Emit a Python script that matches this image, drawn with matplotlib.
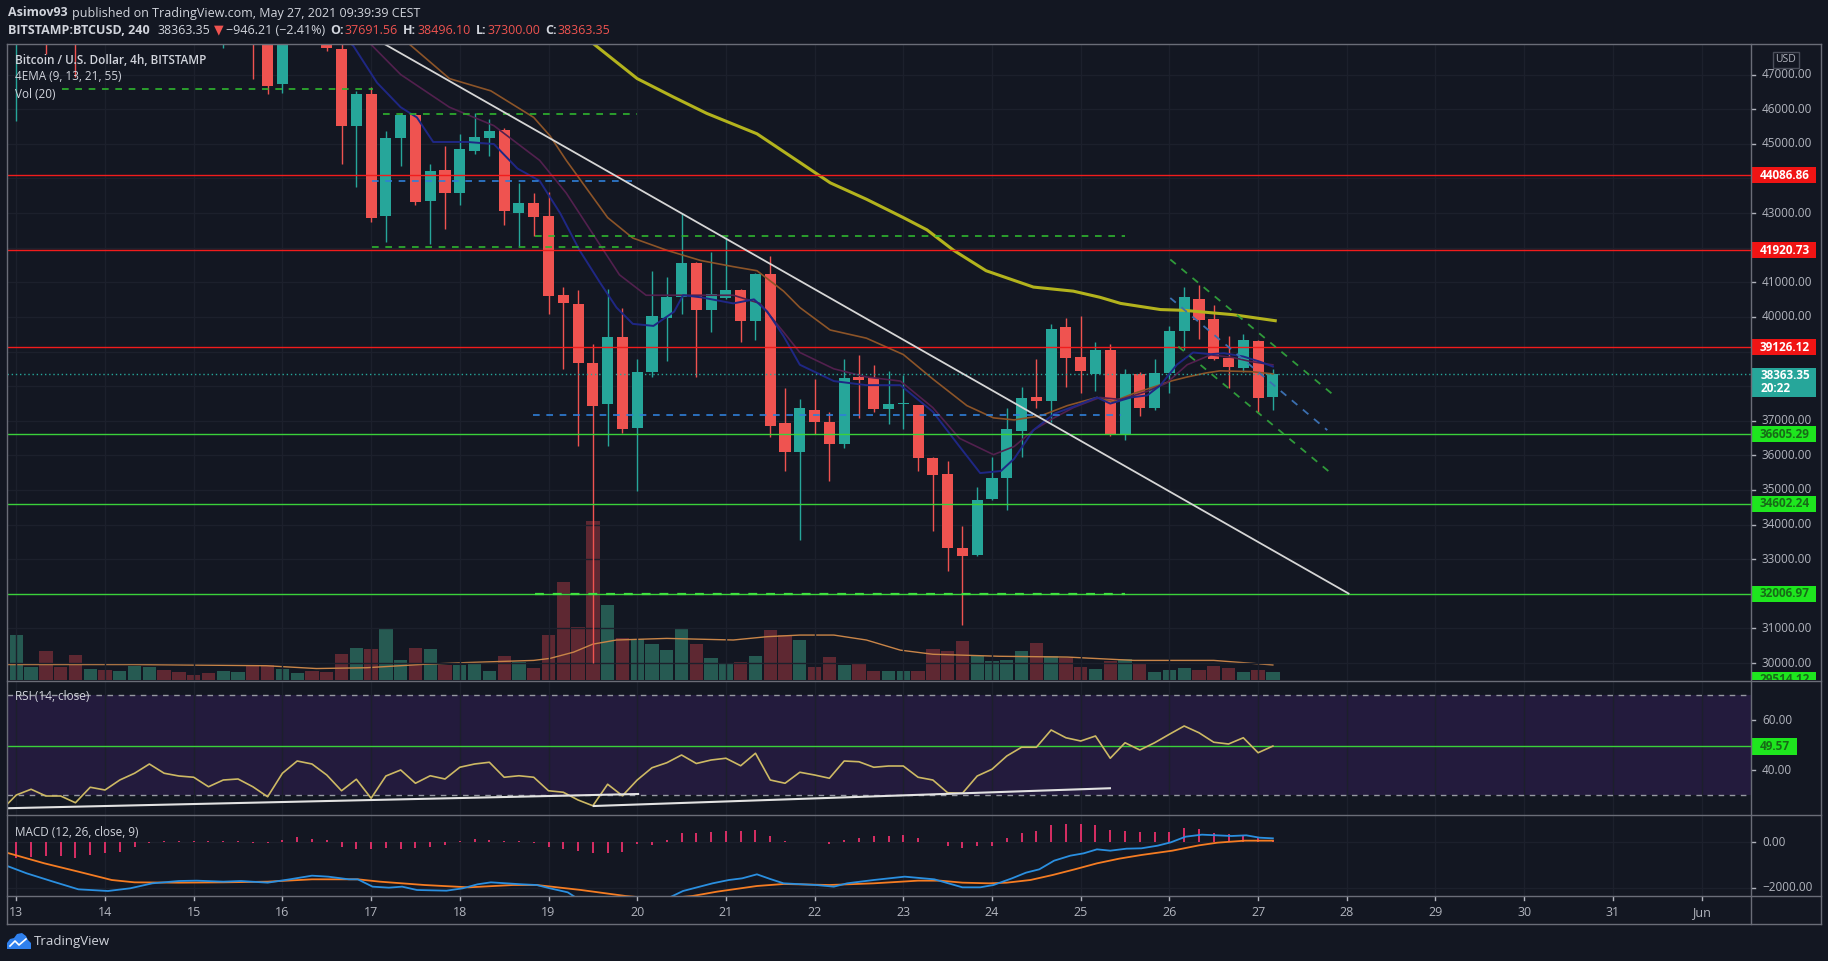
import numpy as np
import matplotlib
matplotlib.use('Agg')
import matplotlib.pyplot as plt
from matplotlib.patches import Rectangle, Polygon
from matplotlib.lines import Line2D

plt.rcParams['font.family'] = ['Open Sans', 'DejaVu Sans']

W, H = 1828, 961
BG = '#131722'
TXT = '#d1d4dc'
AX_TXT = '#b2b5be'
GRID = '#1c202c'
FRAME = '#6a6d78'
UP = '#26a69a'
DOWN = '#ef5350'
UP_VOL = '#265a52'
DOWN_VOL = '#5e2832'

# ---- data: 4h candles, bar 0 = May 13 00:00, first bar = -1 (May 12 20:00) ----
DAY0 = 13.0
FIRST_BAR = -1

opens = [51800, 49300, 49900, 51000, 49200, 48900, 48200, 49700, 49300, 50600,
         51000, 51300, 50700, 50100, 49800, 49300, 49900, 50200, 48100, 46743,
         48000, 49100, 48400, 47735, 45527, 46448, 42905, 45173, 45822, 43342,
         44251, 43578, 44783, 45173, 45409, 43014, 43283, 42905, 40626, 40366,
         38677, 37472, 39409, 36787, 38405, 39976, 40567, 41571, 40212, 40543,
         40779, 39893, 41240, 36941, 36102, 37319, 36965, 36315, 38264, 38228,
         37343, 37480, 37461, 35937, 35453, 33327, 33126, 34745, 35335, 36705,
         37673, 37579, 39704, 38854, 38358, 39055, 36587, 38358, 37378, 38382,
         39587, 40531, 39938, 38826, 38517, 39310, 37691.56]
highs = [52400, 50200, 51400, 51300, 49900, 49500, 50000, 50400, 51000, 51400,
         51600, 51500, 51000, 50500, 50300, 50300, 50700, 50500, 48700, 48300,
         49500, 49700, 48800, 48150, 46530, 46649, 45373, 45880, 45880, 44405,
         44936, 45291, 45881, 45704, 45444, 43874, 43578, 43602, 40862, 40779,
         39209, 40803, 40271, 38795, 41334, 41157, 42988, 41600, 41866, 42314,
         40800, 41260, 41748, 37933, 37614, 38205, 37260, 38795, 38913, 38618,
         38441, 38323, 37461, 35950, 35842, 33953, 35075, 35960, 37378, 37969,
         38795, 39799, 39976, 40035, 39268, 39209, 38500, 38400, 38795, 39740,
         40862, 40921, 40334, 39435, 39503, 39339, 38496.10]
lows = [48800, 45650, 49200, 47594, 48300, 46944, 48000, 48900, 49000, 50200,
        50500, 50400, 49800, 49500, 48900, 47770, 49500, 46885, 46448, 46472,
        47950, 48100, 47688, 44405, 43755, 42751, 42161, 44346, 43224, 42102,
        42539, 43224, 44700, 44641, 42657, 42043, 42338, 40094, 38500, 36256,
        30000, 36256, 36650, 34957, 38263, 38736, 40094, 38263, 39563, 40507,
        39268, 39327, 36516, 35547, 33540, 36610, 35252, 36200, 37083, 37260,
        36906, 36752, 35547, 33811, 32654, 31100, 33100, 34700, 34425, 35961,
        37378, 36965, 37969, 37791, 37850, 36552, 36433, 37142, 37300, 37800,
        39040, 39350, 38758, 37937, 38401, 37212, 37300.00]
closes = [49300, 49900, 51000, 49200, 48900, 48200, 49700, 49300, 50600, 51000,
          51300, 50700, 50100, 49800, 49300, 49900, 50200, 48100, 46684, 48000,
          49100, 48400, 47771, 45527, 46448, 42870, 45173, 45822, 43318, 44228,
          43578, 44842, 45196, 45373, 43047, 43283, 42893, 40602, 40390, 38677,
          37437, 39409, 36752, 38405, 40035, 40567, 41571, 40212, 40649, 40767,
          39893, 41240, 36846, 36102, 37354, 36965, 36315, 38228, 38169, 37343,
          37496, 37496, 35925, 35429, 33327, 33091, 34721, 35335, 36752, 37650,
          37579, 39657, 38819, 38441, 39055, 36587, 38358, 37378, 38382, 39587,
          40567, 39917, 38787, 38565, 39339, 37647, 38363.35]
volumes = [2700, 3380, 1010, 2150, 1010, 1840, 860, 770, 700, 1070,
           1010, 770, 620, 400, 550, 700, 620, 1160, 1160, 860,
           550, 700, 620, 1930, 2390, 2330, 3830, 1530, 2390, 2330,
           1160, 1160, 1310, 700, 1780, 1380, 920, 3380, 7350, 4010,
           11930, 5600, 3150, 3060, 2690, 2240, 3860, 2690, 1620, 1310,
           1380, 1780, 3770, 3380, 3000, 1010, 1720, 1160, 1310, 700,
           700, 700, 700, 2300, 2180, 2910, 1780, 1410, 1530, 2150,
           2750, 1780, 1620, 1010, 860, 1460, 1540, 1170, 620, 730,
           920, 770, 1040, 920, 620, 750, 620]
rsi = [24, 30, 32.3, 29.6, 29.6, 26.9, 33.1, 32, 36, 38.7,
       42.4, 38.7, 37.6, 37.1, 33.3, 36, 36.4, 33.3, 29.3, 38.7,
       43.6, 42.4, 38, 31.7, 36.3, 28.7, 37.6, 40, 34.7, 37.7,
       36.4, 41.1, 42.4, 43.1, 37.1, 37.7, 37.1, 31.7, 31.1, 28,
       25.7, 34.3, 29.7, 36, 40.9, 42.9, 46, 42.6, 44, 44.7,
       41.7, 46.7, 36, 34.7, 39.1, 38, 36.7, 43.6, 43.3, 41.1,
       41.6, 41.6, 37.1, 36, 30.9, 30.7, 37.6, 40.3, 45.6, 49.1,
       49.1, 56, 52.9, 51.6, 53.6, 44.7, 50.9, 48, 50.9, 54.3,
       57.6, 54.9, 51.1, 50.4, 52.9, 46.9, 49.57]
macd_hist = [-650, -700, -650, -620, -620, -700, -550, -480, -420, -200,
             -50, 50, 40, 60, 40, 30, 40, -30, -40, 100,
             220, 150, 100, -200, -300, -300, -250, -300, -280, -200,
             -130, 60, 150, 100, 60, 40, -60, -200, -300, -400,
             -500, -500, -420, -100, -116, 80, 390, 390, 420, 464,
             464, 536, 246, 30, 0, -15, -70, 72, 174, 275,
             275, 319, 174, 0, -188, -261, -188, -160, 174, 390,
             464, 754, 797, 797, 754, 507, 464, 420, 435, 435,
             609, 565, 390, 348, 275, 174, 101]

# indicator lines (bar position, value)
macd_bar = [-1, 0.7, 2.5, 4.2, 6.2, 7.7, 9.2, 11, 12.2, 14,
            15.2, 17, 18.5, 20, 21.1, 22.5, 23.1, 24.1, 25.2, 26.1,
            27.1, 29.1, 30.2, 31.2, 32.1, 34.2, 35.2, 36.1, 37.3, 38.3,
            39.3, 40.5, 42, 43.5, 44.4, 45.1, 47.1, 48.2, 49.1, 50.1,
            51, 51.9, 54.1, 55.3, 56.2, 58, 60.1, 62.1, 64, 65.2,
            66.1, 67.35, 68.3, 69.2, 70.2, 71.3, 72.2, 73.1, 74, 75.1,
            76.1, 77.2, 78.1, 79.1, 80.2, 81.2, 82.2, 83.2, 84.1, 85]
macd_val = [-950, -1362, -1725, -2058, -2130, -2014, -1797, -1696, -1681, -1725,
            -1696, -1768, -1623, -1464, -1507, -1623, -1623, -1942, -1986, -1942,
            -2087, -2116, -2014, -1840, -1754, -1840, -1870, -2014, -2188, -2600,
            -3100, -3200, -3000, -2600, -2347, -2130, -1797, -1652, -1580, -1406,
            -1609, -1797, -1870, -1942, -1797, -1652, -1507, -1623, -1971, -1971,
            -1870, -1580, -1333, -1188, -812, -594, -493, -319, -377, -290,
            -275, -160, -14, 232, 319, 290, 261, 290, 188, 159]
signal_bar = [-1, 1.9, 4.2, 6.45, 8, 11, 14, 17, 20, 23.1,
              24.6, 27.6, 30.6, 33.6, 35.2, 38.2, 41.2, 43.5, 45.75, 47.4,
              50.1, 51.9, 55, 58, 61, 62.5, 64, 65.8, 67, 68.6,
              70.1, 71.6, 73.1, 74.6, 76.1, 78.2, 80, 81.25, 83.1, 85]
signal_val = [-400, -928, -1290, -1652, -1754, -1768, -1754, -1725, -1623, -1623,
              -1725, -1870, -1971, -1870, -1870, -2087, -2347, -2480, -2347, -2159,
              -1913, -1826, -1870, -1797, -1681, -1681, -1768, -1797, -1768, -1652,
              -1435, -1188, -928, -725, -565, -377, -145, -29, 58, 58]

ema9_bar = [21.5, 22.8, 24.4, 26.0, 27.1, 28.2, 30.5, 32.3, 33.9, 35.4,
            36.8, 38.1, 39.5, 40.6, 41.7, 43.1, 44.5, 45.1, 46.3, 48.5,
            49.9, 50.8, 51.9, 53.0, 55.3, 57.5, 59.8, 62.0, 63.8, 65.2,
            66.6, 67.5, 68.8, 70.2, 71.7, 73.1, 74.0, 75.4, 76.5, 77.4,
            78.5, 79.6, 80.8, 81.7, 83.0, 84.1, 85.0]
ema9_val = [48300, 47830, 46767, 46058, 45763, 45054, 45054, 44995, 44287, 43932,
            42988, 41925, 40980, 40271, 39799, 39740, 40153, 40626, 40567, 40390,
            40507, 40153, 39445, 38618, 38146, 38028, 38028, 37260, 36256, 35488,
            35547, 35902, 36728, 37201, 37437, 37673, 37496, 37673, 37732, 38028,
            38618, 38972, 38923, 38952, 38855, 38710, 38565]
ema13_bar = [23, 26.0, 29.3, 32.3, 35.4, 37.2, 39.0, 40.8, 42.6, 45.1,
             48.5, 50.3, 51.9, 53.0, 55.3, 57.5, 59.8, 62.0, 63.8, 66.1,
             67.5, 68.8, 70.2, 71.5, 73.3, 74.7, 76.5, 77.8, 79.2, 80.8,
             82.3, 83.5, 85.0]
ema13_val = [48300, 47003, 46058, 45527, 44523, 43578, 42397, 41216, 40626, 40626,
             40626, 40390, 39563, 38972, 38500, 38264, 38146, 37378, 36492, 36020,
             36256, 36728, 37083, 37378, 37673, 37614, 37850, 38087, 38618, 38904,
             38826, 38710, 38614]
ema21_bar = [24, 26.4, 29.3, 32.1, 35.0, 36.1, 37.2, 38.6, 40.0, 41.7,
             44.0, 46.3, 48.5, 50.1, 51.9, 53.0, 55.05, 57.5, 60.0, 62.0,
             64.3, 66.1, 67.5, 69.3, 71.1, 73.1, 74.2, 75.6, 76.9, 78.1,
             79.2, 80.5, 81.4, 83.5, 85.0]
ema21_val = [48400, 47948, 46885, 46531, 45763, 45232, 44523, 43696, 42869, 42279,
             41925, 41629, 41452, 41334, 40744, 40271, 39622, 39386, 38913, 38205,
             37437, 37083, 37024, 37142, 37437, 37673, 37555, 37791, 37969, 38146,
             38264, 38382, 38441, 38420, 38353]
ema55_bar = [36, 38.7, 42.0, 44.45, 46.7, 50.1, 53.0, 55.06, 57.5, 60.0,
             61.6, 63.4, 65.6, 68.8, 71.5, 73.3, 74.7, 77.4, 79.0, 82.3, 85.16]
ema55_val = [48500, 48007, 46885, 46353, 45881, 45291, 44464, 43873, 43401, 42870,
             42515, 41925, 41334, 40862, 40744, 40567, 40390, 40212, 40190, 40064, 39890]
volma_bar = [-1, 7.9, 16.9, 20.3, 23.7, 27.3, 30.5, 35, 36.1, 37.7,
             39, 40.6, 44, 48.5, 50.8, 53, 55.3, 57.5, 59.8, 62,
             66.5, 71.1, 75.6, 81, 85]
volma_val = [1160, 1160, 1070, 860, 920, 1160, 1310, 1470, 1620, 2090,
             2690, 3000, 3120, 3000, 3250, 3370, 3370, 3000, 2240, 1930,
             1780, 1720, 1470, 1470, 1130]

# horizontal levels and drawings (x in days of May)
red_levels = [44086.86, 41920.73, 39126.12]
green_levels = [36605.29, 34602.24, 32006.97]
bottom_level = 29514.12
last_price = 38363.35
trend_x = [16.9, 28.02]
trend_y = [48250, 32007]
green_dash = [(13.515, 17.02, 46590), (17.13, 20.0, 45858), (17.01, 20.0, 42020),
              (18.85, 25.5, 42340)]
blue_dash = [(17.01, 20.0, 43930), (18.83, 25.45, 37160)]
support_dash = (18.85, 25.5, 32006.97)
channel_green = [([26.01, 27.85], [41659, 37743]), ([26.10, 27.85], [39145, 35423])]
channel_blue = ([26.01, 27.78], [40547, 36728])
rsi_lines = [([12.89, 20.01], [24.7, 30.4]), ([19.51, 25.33], [25.6, 32.7])]
rsi_level = 49.57

day_ticks = list(range(13, 33))
day_labels = [str(d) for d in range(13, 32)] + ['Jun']

XMIN, XMAX = 12.895, 32.557
P_LO, P_HI = 29509, 47885
VOL_TOP = 47700
R_LO, R_HI = 22, 75.6
M_LO, M_HI = -2348, 1174

# ---- layout (pixel boxes) ----
PL, PR, PRR = 7, 1751, 1821
fig = plt.figure(figsize=(W / 100, H / 100), dpi=100, facecolor=BG)


def px_axes(x0, y0, x1, y1):
    ax = fig.add_axes([x0 / W, 1 - y1 / H, (x1 - x0) / W, (y1 - y0) / H])
    ax.set_facecolor('none')
    for s in ax.spines.values():
        s.set_visible(False)
    ax.tick_params(left=False, bottom=False, labelleft=False, labelbottom=False)
    return ax


def bars_to_day(b):
    return DAY0 + np.asarray(b, dtype=float) / 6


def fig_line(x0, y0, x1, y1, color=FRAME, lw=1):
    fig.add_artist(Line2D([x0 / W, x1 / W], [1 - y0 / H, 1 - y1 / H], color=color, lw=lw))


n = len(opens)
x = bars_to_day(np.arange(n) + FIRST_BAR)
o, h, l, c = map(np.array, (opens, highs, lows, closes))
up = c >= o
col = np.where(up, UP, DOWN)

# volume (under the candles)
ax_v = px_axes(PL, 44, PR, 680)
ax_v.set_xlim(XMIN, XMAX)
ax_v.set_ylim(0, VOL_TOP)
ax_v.bar(x, volumes, width=0.15, color=np.where(up, UP_VOL, DOWN_VOL), lw=0)
ax_v.plot(bars_to_day(volma_bar), volma_val, color='#c98548', lw=1)

# price pane
ax_p = px_axes(PL, 44, PR, 680)
ax_p.set_xlim(XMIN, XMAX)
ax_p.set_ylim(P_LO, P_HI)
ax_p.set_xticks(day_ticks)
ax_p.set_yticks(np.arange(30000, 48000, 1000))
ax_p.grid(True, color=GRID, lw=1)
ax_p.set_axisbelow(True)

ax_p.vlines(x, l, h, colors=col, lw=1, zorder=3)
ax_p.bar(x, np.maximum(np.abs(c - o), 25), bottom=np.minimum(o, c), width=0.125,
         color=col, lw=0, zorder=4)

ax_p.plot(bars_to_day(ema55_bar), ema55_val, color='#b3b31d', lw=2.2, zorder=5)
ax_p.plot(bars_to_day(ema21_bar), ema21_val, color='#8c5428', lw=1.2, zorder=5)
ax_p.plot(bars_to_day(ema13_bar), ema13_val, color='#52204e', lw=1.2, zorder=5)
ax_p.plot(bars_to_day(ema9_bar), ema9_val, color='#1f2784', lw=1.4, zorder=5)

for lv in red_levels:
    ax_p.axhline(lv, color='#f21c1c', lw=1, zorder=6)
for lv in green_levels:
    ax_p.axhline(lv, color='#3ad13a', lw=1, zorder=6)
ax_p.axhline(last_price, color=UP, lw=1, ls=(0, (1, 2)), zorder=6)

for x0, x1, y in green_dash:
    ax_p.plot([x0, x1], [y, y], color='#2fb52f', lw=1.2, ls=(0, (4, 4)), zorder=6)
for x0, x1, y in blue_dash:
    ax_p.plot([x0, x1], [y, y], color='#2f7fd8', lw=1.2, ls=(0, (4, 4)), zorder=6)
ax_p.plot(support_dash[:2], [support_dash[2]] * 2, color='#40e040', lw=1.6,
          ls=(0, (4, 4)), zorder=6)
for cx, cy in channel_green:
    ax_p.plot(cx, cy, color='#2f9a3a', lw=1.3, ls=(0, (4, 4)), zorder=6)
ax_p.plot(*channel_blue, color='#3b6fb0', lw=1.3, ls=(0, (4, 4)), zorder=6)
ax_p.plot(trend_x, trend_y, color='#d6d6d6', lw=1.3, zorder=7)

ax_p.text(0.0046, 1 - 16 / 636, 'Bitcoin / U.S. Dollar, 4h, BITSTAMP', transform=ax_p.transAxes,
          color=TXT, fontsize=8.5, fontweight='semibold', va='center', zorder=8)
ax_p.text(0.0046, 1 - 33 / 636, '4EMA (9, 13, 21, 55)', transform=ax_p.transAxes,
          color=TXT, fontsize=8.5, va='center', zorder=8)
ax_p.text(0.0046, 1 - 50 / 636, 'Vol (20)', transform=ax_p.transAxes,
          color=TXT, fontsize=8.5, va='center', zorder=8)

# RSI pane
ax_r = px_axes(PL, 681, PR, 815)
ax_r.set_xlim(XMIN, XMAX)
ax_r.set_ylim(R_LO, R_HI)
ax_r.axhspan(30, 70, color='#231b3d', lw=0, zorder=0)
ax_r.set_xticks(day_ticks)
ax_r.set_yticks([])
ax_r.grid(True, axis='x', color=GRID, lw=1)
ax_r.set_axisbelow(True)
for lv in (70, 30):
    ax_r.axhline(lv, color='#9598a1', lw=1, ls=(0, (4, 4)), zorder=2)
ax_r.axhline(rsi_level, color='#3ad13a', lw=1, zorder=3)
ax_r.plot(x, rsi, color='#cdb964', lw=1.2, zorder=4)
for lx, ly in rsi_lines:
    ax_r.plot(lx, ly, color='#e2e2e2', lw=1.5, zorder=5)
ax_r.text(0.0046, 1 - 16 / 134, 'RSI (14, close)', transform=ax_r.transAxes,
          color=TXT, fontsize=8.5, va='center', zorder=6)

# MACD pane
ax_m = px_axes(PL, 815, PR, 896)
ax_m.set_xlim(XMIN, XMAX)
ax_m.set_ylim(M_LO, M_HI)
ax_m.set_xticks(day_ticks)
ax_m.set_yticks([0, -2000])
ax_m.grid(True, color=GRID, lw=1)
ax_m.set_axisbelow(True)
ax_m.vlines(x, 0, macd_hist, colors='#e8306a', lw=1.3, zorder=3)
ax_m.plot(bars_to_day(signal_bar), signal_val, color='#f57c22', lw=1.3, zorder=4)
ax_m.plot(bars_to_day(macd_bar), macd_val, color='#2a8fe0', lw=1.3, zorder=5)
ax_m.text(0.0046, 1 - 18 / 81, 'MACD (12, 26, close, 9)', transform=ax_m.transAxes,
          color=TXT, fontsize=8.5, va='center', zorder=6)

# date axis
ax_d = px_axes(PL, 896, PR, 924)
ax_d.set_xlim(XMIN, XMAX)
ax_d.set_ylim(0, 1)
for d, lab in zip(day_ticks, day_labels):
    ax_d.plot([d, d], [1, 0.86], color=AX_TXT, lw=1)
    ax_d.text(d, 0.42, lab, color=AX_TXT, fontsize=9, ha='center', va='center')


# right-hand scales
def scale_panel(y0, y1, lo, hi):
    ax = px_axes(PR, y0, PRR, y1)
    ax.set_xlim(0, PRR - PR)
    ax.set_ylim(lo, hi)
    return ax, (y1 - y0) / (hi - lo)


def tick_label(ax, y, text):
    ax.plot([0, 4], [y, y], color=AX_TXT, lw=1, zorder=2)
    ax.text(11, y, text, color=AX_TXT, fontsize=8.5, va='center', ha='left', zorder=2, clip_on=True)


def tag(ax, ppu, y, text, fc, tc, w=65, h_px=16):
    half = h_px / 2 / ppu
    ax.add_patch(Rectangle((0, y - half), w, 2 * half, fc=fc, ec='none', zorder=5, clip_on=True))
    ax.text(w / 2 + 1, y, text, color=tc, fontsize=8.5, fontweight='bold', ha='center',
            va='center', zorder=6, clip_on=True)


ax_pr, ppu_p = scale_panel(44, 680, P_LO, P_HI)
tagged = red_levels + green_levels
for p in range(30000, 48000, 1000):
    # labels sitting under a coloured tag are hidden in the reference
    if min(abs(p - t) for t in tagged) < 9 / ppu_p:
        continue
    if last_price - 24 / ppu_p < p < last_price + 6 / ppu_p:
        continue
    tick_label(ax_pr, p, f'{p:.2f}')
for lv in red_levels:
    tag(ax_pr, ppu_p, lv, f'{lv:.2f}', '#f01414', 'white')
for lv in green_levels + [bottom_level]:
    tag(ax_pr, ppu_p, lv, f'{lv:.2f}', '#1ee61e', '#176b17')
ax_pr.add_patch(Rectangle((0, last_price - 23.4 / ppu_p), 65, 29 / ppu_p, fc=UP, ec='none', zorder=5))
ax_pr.text(10, last_price - 2.4 / ppu_p, f'{last_price:.2f}', color='white', fontsize=8.5,
           fontweight='bold', va='center', zorder=6)
ax_pr.text(10, last_price - 15.4 / ppu_p, '20:22', color='white', fontsize=8.5,
           fontweight='bold', va='center', zorder=6)
fig.add_artist(Rectangle((1773 / W, 1 - 68 / H), 26 / W, 16 / H, transform=fig.transFigure,
                         fc=BG, ec='#4a4e5a', lw=1))
fig.text(1786 / W, 1 - 60 / H, 'USD', color=AX_TXT, fontsize=7.5, ha='center', va='center')

ax_rr, ppu_r = scale_panel(681, 815, R_LO, R_HI)
for v in (60, 40):
    tick_label(ax_rr, v, f'{v:.2f}')
tag(ax_rr, ppu_r, rsi_level, f'{rsi_level:.2f}', '#1ee61e', '#176b17', w=46, h_px=17)

ax_mr, ppu_m = scale_panel(815, 896, M_LO, M_HI)
tick_label(ax_mr, 0, '0.00')
tick_label(ax_mr, -2000, '\u22122000.00')

# frame lines
for yy in (44, 680.5, 815, 896, 924):
    fig_line(PL, yy, PRR, yy)
for xx in (PL, PR, PRR):
    fig_line(xx, 44, xx, 924)

# header
renderer = fig.canvas.get_renderer()


def text_run(x0, y0, parts, size=9):
    xx = x0
    for s, color, weight, gap in parts:
        t = fig.text(xx / W, 1 - y0 / H, s, color=color, fontsize=size, fontweight=weight,
                     ha='left', va='center')
        xx += t.get_window_extent(renderer=renderer).width + gap


text_run(8, 13, [('Asimov93', TXT, 'bold', 4),
                 ('published on TradingView.com, May 27, 2021 09:39:39 CEST', TXT, 'normal', 0)])
text_run(8, 30, [('BITSTAMP:BTCUSD, 240', TXT, 'bold', 8),
                 ('38363.35', TXT, 'normal', 3),
                 ('\u25bc', DOWN, 'normal', 3),
                 ('\u2212946.21 (\u22122.41%)', TXT, 'normal', 5),
                 ('O:', TXT, 'bold', 1), ('37691.56', DOWN, 'normal', 5),
                 ('H:', TXT, 'bold', 1), ('38496.10', DOWN, 'normal', 5),
                 ('L:', TXT, 'bold', 1), ('37300.00', DOWN, 'normal', 5),
                 ('C:', TXT, 'bold', 1), ('38363.35', DOWN, 'normal', 0)])

# TradingView logo
cloud = [(7, 949), (7, 943), (10, 939), (14, 938), (17, 934), (22, 933), (26, 936),
         (28, 940), (31, 943), (31, 949)]
fig.add_artist(Polygon([(px / W, 1 - py / H) for px, py in cloud], closed=True,
                       transform=fig.transFigure, fc='#2f80ed', ec='none'))
zig = [(10, 946), (15, 941), (19, 945), (26, 939)]
fig.add_artist(Line2D([px / W for px, py in zig], [1 - py / H for px, py in zig],
                      color='white', lw=1.2))
fig.text(34 / W, 1 - 941 / H, 'TradingView', color=TXT, fontsize=9.5, va='center', ha='left')

fig.savefig('out.png', dpi=100, facecolor=BG)
